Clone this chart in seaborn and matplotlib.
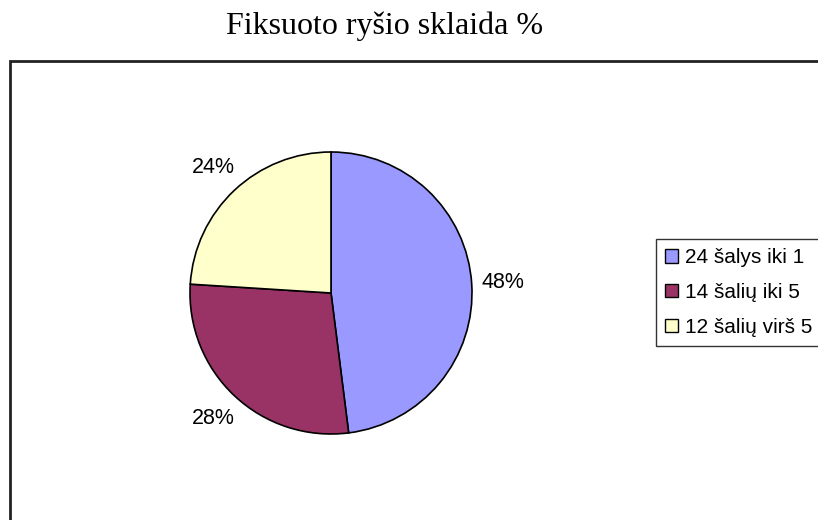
import matplotlib
matplotlib.use("Agg")
import matplotlib.pyplot as plt
from matplotlib.patches import Patch, Rectangle
import seaborn as sns

# data
labels = ["24 šalys iki 1", "14 šalių iki 5", "12 šalių virš 5"]
counts = [24, 14, 12]
colors = ["#9999FF", "#993366", "#FFFFCC"]
title = "Fiksuoto ryšio sklaida %"

sns.set_theme(style="white")
plt.rcParams["font.family"] = ["Liberation Sans", "DejaVu Sans"]
plt.rcParams["text.color"] = "black"

W, H = 818, 520
fig = plt.figure(figsize=(W / 100, H / 100), dpi=100)

# outer chart frame (runs off right and bottom edge)
fig.patches.append(Rectangle((10 / W, -0.1), 1.0, 1 - 61 / H + 0.1,
                             transform=fig.transFigure, fill=False,
                             edgecolor="#222222", linewidth=2))

fig.text(385 / W, 1 - 26 / H, title, ha="center", va="center",
         family=["Liberation Serif", "DejaVu Serif"], fontsize=23,
         color="black")

# pie centred at (331, 293), radius ~141 px
cx, cy, r = 331, 293, 141
ax = fig.add_axes([(cx - r) / W, (H - cy - r) / H, 2 * r / W, 2 * r / H])
wedges, texts, autotexts = ax.pie(
    counts, colors=colors, startangle=90, counterclock=False,
    autopct="%1.0f%%", pctdistance=1.22, radius=1,
    wedgeprops=dict(edgecolor="black", linewidth=1.2),
    textprops=dict(fontsize=15.5, color="black"))
ax.set_xlim(-1, 1)
ax.set_ylim(-1, 1)
ax.set_aspect("equal")
ax.axis("off")

handles = [Patch(facecolor=c, edgecolor="black", linewidth=1) for c in colors]
leg = fig.legend(handles, labels, loc="upper left",
                 bbox_to_anchor=(656 / W, 1 - 239 / H),
                 fontsize=15, frameon=True, fancybox=False,
                 edgecolor="black", handlelength=0.6, handleheight=0.6,
                 handletextpad=0.35, labelspacing=0.75, borderpad=0.45,
                 borderaxespad=0)
leg.get_frame().set_linewidth(1)
for t in leg.get_texts():
    t.set_color("black")

fig.savefig("out.png", dpi=100)
